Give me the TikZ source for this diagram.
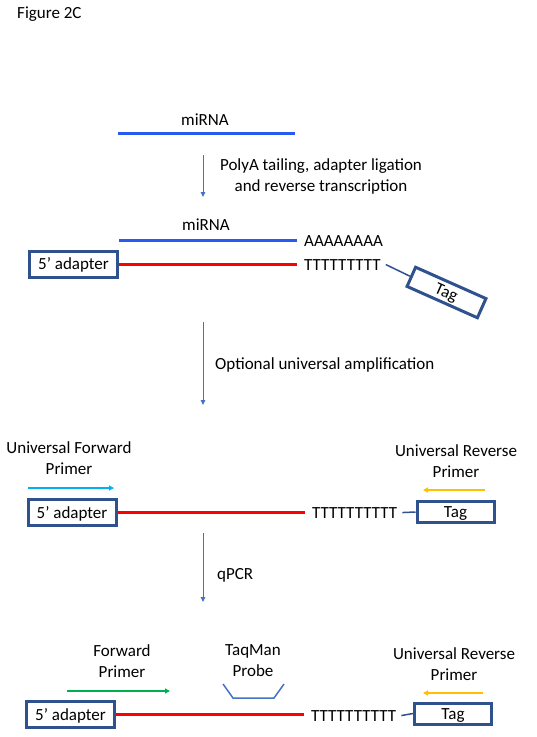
\documentclass[tikz,border=0pt]{standalone}
\usepackage{fontspec}
\setmainfont{Carlito}
\usetikzlibrary{arrows.meta, positioning}

\definecolor{mirblue}{RGB}{40,90,240}
\definecolor{boxblue}{RGB}{47,82,143}
\definecolor{flowblue}{RGB}{68,114,196}
\definecolor{fwdcyan}{RGB}{0,176,240}
\definecolor{revgold}{RGB}{255,192,0}
\definecolor{fwdgreen}{RGB}{0,176,80}

\begin{document}
\begin{tikzpicture}[
    x=1pt, y=-1pt,
    every node/.style={font=\fontsize{17}{20.5}\selectfont, inner sep=0pt},
    lbl/.style={anchor=base, align=center},
    seq/.style={anchor=base west},
    adapter/.style={draw=boxblue, rectangle, line width=3pt, minimum width=88pt, minimum height=26pt, text height=11pt, text depth=0pt},
    tagbox/.style={draw=boxblue, rectangle, line width=3pt, minimum width=77pt, minimum height=21pt, text height=11pt, text depth=0pt},
    mirna/.style={draw=mirblue, line width=3pt},
    strand/.style={draw=red, line width=3pt},
    link/.style={draw=boxblue, line width=1.5pt},
    flow/.style={-{Triangle[length=5pt, width=4.5pt]}, draw=flowblue, line width=0.9pt},
    primer/.style={-{Triangle[length=5pt, width=5pt]}, line width=2pt}
]
\useasboundingbox (0,0) rectangle (537,737);

\node (fig) [anchor=base west] at (17,18) {Figure 2C};

% Paso 1: miRNA
\node (mir1) [lbl] at (205,125) {miRNA};
\coordinate (m1a) at (118,133);
\coordinate (m1b) at (295,133);
\draw [mirna] (m1a) -- (m1b);

\coordinate (f1a) at (203,155);
\coordinate (f1b) at (203,197);
\draw [flow] (f1a) -- (f1b);
\node (step1) [lbl] at (321,191) {PolyA tailing, adapter ligation\\and reverse transcription};

% Paso 2: cDNA
\node (mir2) [lbl] at (206,230) {miRNA};
\node (ad2) [adapter] at (73.5,264) {5’ adapter};
\node (aa2) [seq] at (304,246) {AAAAAAAA};
\node (tt2) [seq] at (304,270) {TTTTTTTTT};
\node (tag2) [tagbox, rotate=-24] at (446.5,292.5) {Tag};

\draw [mirna] (ad2.east |- aa2.west) -- ([xshift=-7pt]aa2.west);
\draw [strand] (ad2.east) -- ([xshift=-7pt]ad2 -| tt2.west);
\draw [link] ([xshift=5pt]tt2.east) -- (tag2.west);

\coordinate (f2a) at (203,322);
\coordinate (f2b) at (203,405);
\draw [flow] (f2a) -- (f2b);
\node (step2) [anchor=base west] at (215,369) {Optional universal amplification};

% Paso 3: amplificacion universal
\node (ufp3) [lbl] at (69,474) {Universal Forward\\Primer};
\node (urp3) [lbl] at (456,477) {Universal Reverse\\Primer};
\node (ad3) [adapter] at (72,512.5) {5’ adapter};
\node (tt3) [seq] at (312,518) {TTTTTTTTTT};
\node (tag3) [tagbox] at (455.5,512) {Tag};

\draw [strand] (ad3.east) -- ([xshift=-7pt]ad3 -| tt3.west);
\draw [link] ([xshift=5pt]tt3.east) -- (tag3.west);

\coordinate (p3a) at (28,488);
\coordinate (p3b) at (114,488);
\draw [primer, fwdcyan] (p3a) -- (p3b);
\coordinate (r3a) at (485,490);
\coordinate (r3b) at (423,490);
\draw [primer, revgold] (r3a) -- (r3b);

\coordinate (f3a) at (203,533);
\coordinate (f3b) at (203,602);
\draw [flow] (f3a) -- (f3b);
\node (step3) [anchor=base west] at (217,579) {qPCR};

% Paso 4: qPCR
\node (fp4) [lbl] at (122,677) {Forward\\Primer};
\node (probe4) [lbl] at (253,676) {TaqMan\\Probe};
\node (urp4) [lbl] at (454,680) {Universal Reverse\\Primer};
\node (ad4) [adapter] at (70.5,714.5) {5’ adapter};
\node (tt4) [seq] at (311,721) {TTTTTTTTTT};
\node (tag4) [tagbox] at (453,713.5) {Tag};

\draw [strand] (ad4.east) -- ([xshift=-7pt]ad4 -| tt4.west);
\draw [link] ([xshift=5pt]tt4.east) -- (tag4.west);

\coordinate (p4a) at (67,691);
\coordinate (p4b) at (170,691);
\draw [primer, fwdgreen] (p4a) -- (p4b);
\coordinate (r4a) at (483,693);
\coordinate (r4b) at (423,693);
\draw [primer, revgold] (r4a) -- (r4b);
\draw [flowblue, line width=1.5pt] (223,684) -- (233,698) -- (274,698) -- (284,684);

\end{tikzpicture}
\end{document}
